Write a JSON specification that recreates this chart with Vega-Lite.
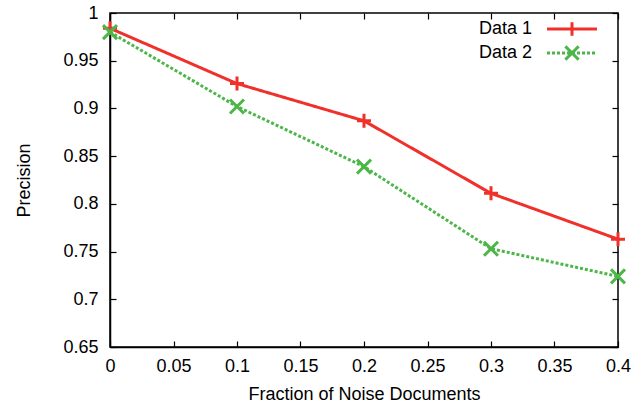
{
  "$schema": "https://vega.github.io/schema/vega-lite/v6.json",
  "width": 508,
  "height": 334,
  "autosize": {"type": "none"},
  "padding": {"left": 110, "top": 13, "right": 23, "bottom": 60},
  "background": "white",
  "config": {
    "font": "Liberation Sans",
    "view": {"stroke": "#000", "strokeWidth": 1.5},
    "axis": {
      "grid": false,
      "domainColor": "#000",
      "domainWidth": 1.5,
      "tickColor": "#000",
      "tickWidth": 1.2,
      "labelColor": "#000",
      "titleColor": "#000",
      "labelFont": "Liberation Sans",
      "titleFont": "Liberation Sans",
      "labelFontSize": 18,
      "titleFontSize": 18,
      "titleFontWeight": "normal"
    }
  },
  "data": {
    "values": [
      {"x": 0.0, "y": 0.984, "series": "Data 1"},
      {"x": 0.1, "y": 0.926, "series": "Data 1"},
      {"x": 0.2, "y": 0.887, "series": "Data 1"},
      {"x": 0.3, "y": 0.811, "series": "Data 1"},
      {"x": 0.4, "y": 0.763, "series": "Data 1"},
      {"x": 0.0, "y": 0.980, "series": "Data 2"},
      {"x": 0.1, "y": 0.902, "series": "Data 2"},
      {"x": 0.2, "y": 0.839, "series": "Data 2"},
      {"x": 0.3, "y": 0.753, "series": "Data 2"},
      {"x": 0.4, "y": 0.724, "series": "Data 2"}
    ]
  },
  "layer": [
    {
      "mark": {"type": "line", "strokeWidth": 3, "clip": false},
      "encoding": {
        "x": {
          "field": "x", "type": "quantitative",
          "scale": {"domain": [0, 0.4], "nice": false, "zero": false},
          "axis": {"title": "Fraction of Noise Documents", "values": [0, 0.05, 0.1, 0.15, 0.2, 0.25, 0.3, 0.35, 0.4], "format": "~g", "tickSize": -6, "labelPadding": 16, "titlePadding": 10, "labelFlush": false}
        },
        "y": {
          "field": "y", "type": "quantitative",
          "scale": {"domain": [0.65, 1], "nice": false, "zero": false},
          "axis": {"title": "Precision", "values": [0.65, 0.7, 0.75, 0.8, 0.85, 0.9, 0.95, 1], "format": "~g", "tickSize": -6, "labelPadding": 18, "titlePadding": 29, "labelFlush": false}
        },
        "color": {
          "field": "series", "type": "nominal",
          "scale": {"domain": ["Data 1", "Data 2"], "range": ["#f0302a", "#4cb748"]},
          "legend": {
            "title": null,
            "orient": "none",
            "legendX": 451,
            "legendY": 5,
            "padding": 0,
            "rowPadding": -9,
            "symbolSize": 361,
            "symbolStrokeWidth": 3,
            "labelFontSize": 18,
            "labelFont": "Liberation Sans",
            "labelColor": "#000",
            "labelAlign": "right",
            "labelOffset": -51,
            "encode": {
              "symbols": {
                "update": {
                  "shape": {"signal": "datum.value === 'Data 1' ? 'M-2.63,0H2.63M0,-0.7V0.7' : 'M-2.63,0H2.63M-0.7,-0.7L0.7,0.7M-0.514,-0.514L0.7,0.7M-0.7,0.7L0.7,-0.7M-0.514,0.514L0.7,-0.7M0.7,0.7L-0.7,-0.7M0.7,-0.7L-0.7,0.7'"},
                  "fill": {"value": "transparent"}
                }
              }
            }
          }
        },
        "strokeDash": {
          "field": "series", "type": "nominal",
          "scale": {"domain": ["Data 1", "Data 2"], "range": [[1, 0], [3, 2]]},
          "legend": null
        }
      }
    },
    {
      "transform": [{"filter": "datum.series === 'Data 1'"}],
      "mark": {"type": "point", "filled": false, "strokeWidth": 3, "opacity": 1, "size": 196, "clip": false, "shape": "M-1,0H1M0,-1V1", "color": "#f0302a"},
      "encoding": {
        "x": {"field": "x", "type": "quantitative", "axis": null},
        "y": {"field": "y", "type": "quantitative", "axis": null}
      }
    },
    {
      "transform": [{"filter": "datum.series === 'Data 2'"}],
      "mark": {"type": "point", "filled": false, "strokeWidth": 3, "opacity": 1, "size": 196, "clip": false, "shape": "M-1,-1L1,1M-1,1L1,-1", "color": "#4cb748"},
      "encoding": {
        "x": {"field": "x", "type": "quantitative", "axis": null},
        "y": {"field": "y", "type": "quantitative", "axis": null}
      }
    },
    {
      "mark": {"type": "rule", "opacity": 0},
      "encoding": {
        "x": {
          "field": "x", "type": "quantitative",
          "axis": {"orient": "top", "title": null, "labels": false, "values": [0, 0.05, 0.1, 0.15, 0.2, 0.25, 0.3, 0.35, 0.4], "tickSize": -6, "domain": false}
        },
        "y": {
          "field": "y", "type": "quantitative",
          "axis": {"orient": "right", "title": null, "labels": false, "values": [0.65, 0.7, 0.75, 0.8, 0.85, 0.9, 0.95, 1], "tickSize": -6, "domain": false}
        }
      }
    }
  ],
  "resolve": {"axis": {"x": "independent", "y": "independent"}}
}
